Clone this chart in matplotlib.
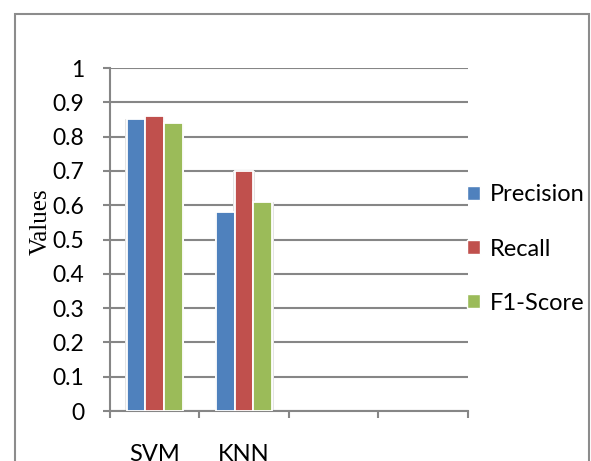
import matplotlib.pyplot as plt
from matplotlib.patches import Rectangle, Patch

# data
categories = ['SVM', 'KNN', '', '']
precision = [0.85, 0.58]
recall = [0.86, 0.70]
f1_score = [0.84, 0.61]
series_names = ['Precision', 'Recall', 'F1-Score']
series_colors = ['#4F81BD', '#C0504D', '#9BBB59']
yticks = [0, 0.1, 0.2, 0.3, 0.4, 0.5, 0.6, 0.7, 0.8, 0.9, 1]

plt.rcParams['font.family'] = ['Lato', 'DejaVu Sans']
grey = '#868686'

fig = plt.figure(figsize=(5.91, 4.61), dpi=100)
ax = fig.add_axes([110 / 591, 1 - 411 / 461, 357.5 / 591, 343 / 461])

# outer chart border
fig.patches.append(Rectangle((15 / 591, -0.1), 574 / 591, 1.1 - 14 / 461,
                             transform=fig.transFigure, fill=False,
                             edgecolor='#8c8c8c', linewidth=1.5))

lebar = 0.21
semua = [precision, recall, f1_score]
for i, nilai in enumerate(semua):
    xs = [k + (i - 1) * lebar for k in range(len(nilai))]
    # bayangan tipis
    ax.bar(xs, nilai, width=lebar + 0.03, color='#e4e4e4', zorder=2)
    ax.bar(xs, nilai, width=lebar, color=series_colors[i],
           edgecolor='white', linewidth=1.3, zorder=3)

ax.set_xlim(-0.5, len(categories) - 0.5)
ax.set_ylim(0, 1)
ax.set_yticks(yticks)
ax.set_yticklabels([f'{v:g}' for v in yticks], fontsize=16.5)
ax.yaxis.grid(True, color=grey, linewidth=1.5, zorder=1)
ax.set_axisbelow(True)

ax.set_xticks(range(len(categories)))
ax.set_xticklabels(categories, fontsize=17)
ax.set_xticks([k - 0.5 for k in range(len(categories) + 1)], minor=True)
ax.tick_params(axis='x', which='major', length=0, pad=24)
ax.tick_params(axis='x', which='minor', length=5, width=1.5, color=grey)
ax.tick_params(axis='y', length=5, width=1.5, color=grey, pad=13.5)

for s in ['top', 'right']:
    ax.spines[s].set_visible(False)
for s in ['left', 'bottom']:
    ax.spines[s].set_color(grey)
    ax.spines[s].set_linewidth(1.5)

fig.text(40.5 / 591, 1 - 222 / 461, 'Values', rotation=90, ha='center', va='center',
         fontsize=18, family='Liberation Serif')

handles = [Patch(facecolor=c, edgecolor='white', linewidth=1) for c in series_colors]
fig.legend(handles, series_names, loc='center left',
           bbox_to_anchor=(458 / 591, 1 - 249 / 461), frameon=False, fontsize=17,
           handlelength=0.55, handleheight=0.55, handletextpad=0.42,
           labelspacing=1.4, borderaxespad=0)

fig.savefig('out.png', dpi=100)
